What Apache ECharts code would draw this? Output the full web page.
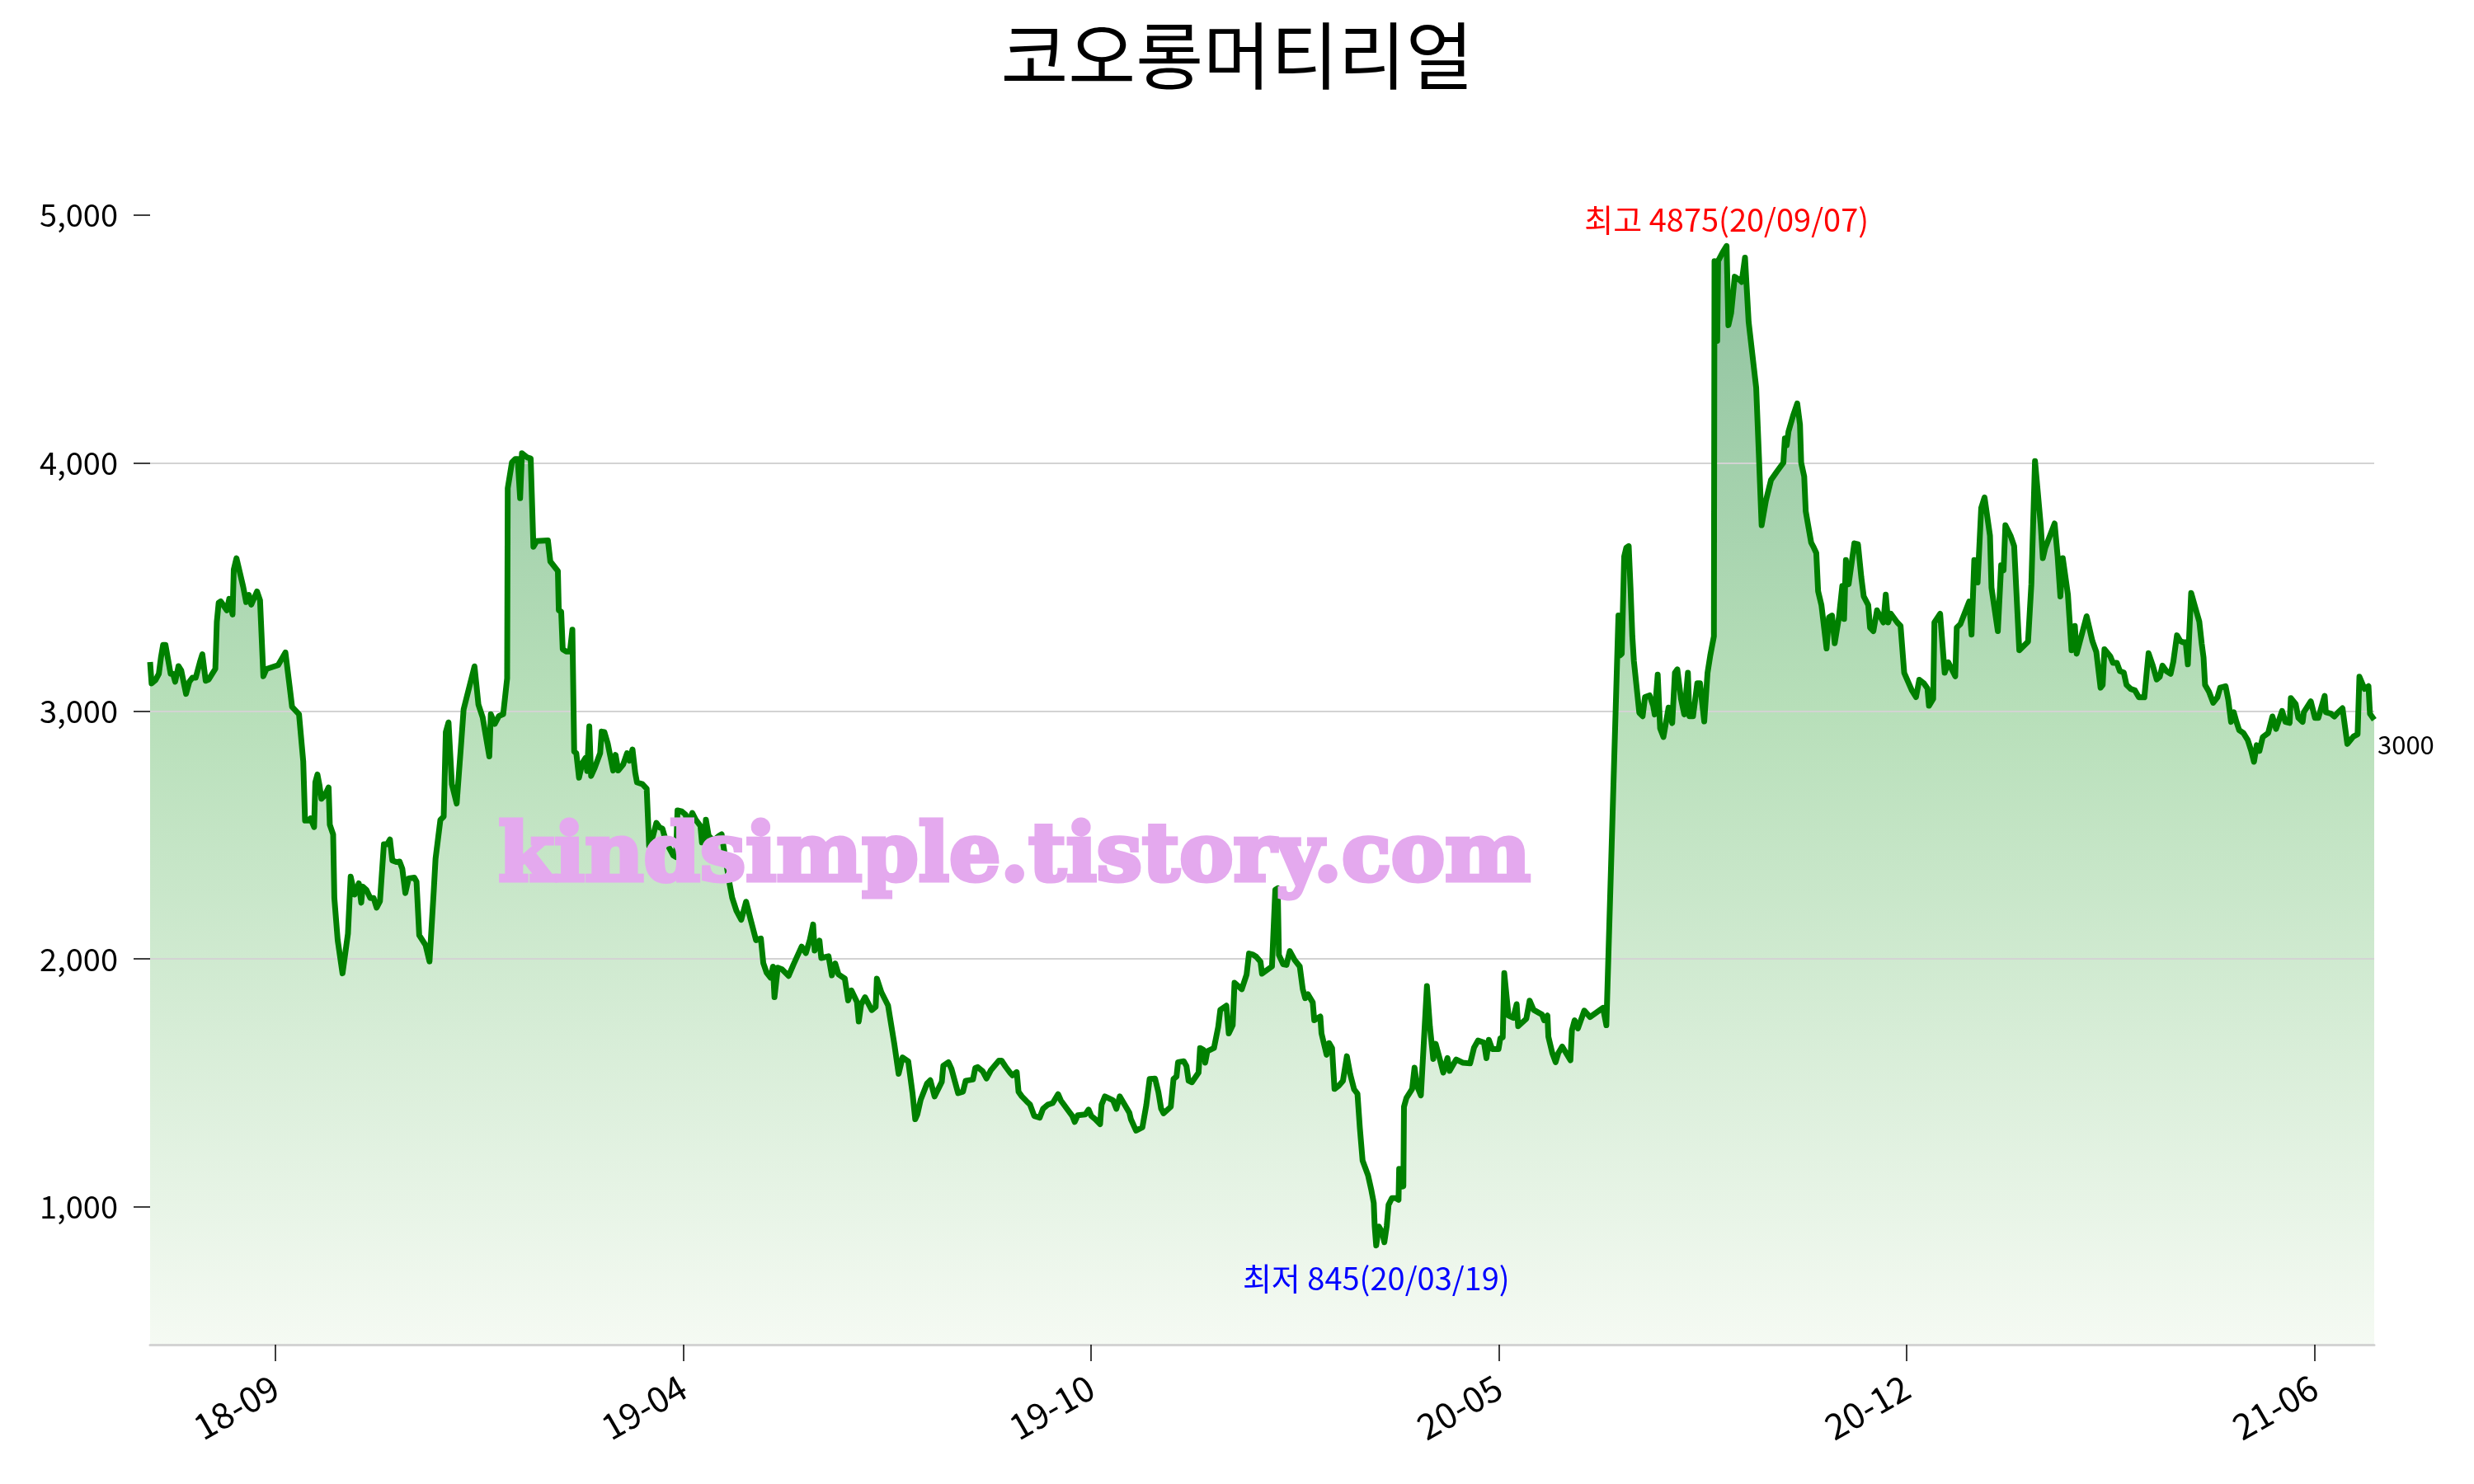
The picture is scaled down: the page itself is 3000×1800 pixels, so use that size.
<!DOCTYPE html>
<html><head><meta charset="utf-8">
<script src="https://cdn.jsdelivr.net/npm/echarts@6/dist/echarts.min.js"></script>
<style>html,body{margin:0;padding:0;background:#fff}#c{width:3000px;height:1800px}</style>
</head><body><div id="c"></div>
<script>
const chartTitle = '코오롱머티리얼';
// trading-day index (x) and close price (y)
const days = [0,0.5,1.8,2.9,3.6,4.3,5.1,6.8,7.6,8.3,9.4,10.3,11.9,13.0,14.0,15.1,16.5,17.3,18.4,19.4,21.6,22.1,22.7,23.4,25.4,26.2,27.3,27.7,28.6,30.8,31.8,32.7,33.5,35.4,36.4,37.5,38.5,42.4,44.8,46.2,47.0,49.3,50.7,51.3,52.4,53.1,54.3,54.7,55.4,56.1,56.7,57.8,59.1,59.5,60.6,61.0,62.1,63.7,65.5,66.4,67.7,69.1,69.9,70.4,71.6,72.9,74.0,75.0,76.1,77.4,78.5,79.4,80.2,81.5,82.6,83.5,84.5,85.6,87.5,88.2,89.1,91.2,92.5,93.9,94.5,96.1,97.2,97.9,98.8,99.9,101.5,103.1,103.8,107.4,108.7,110.1,112.3,112.8,114.1,115.5,116.9,118.2,118.4,119.8,120.9,121.7,122.5,123.1,124.9,126.0,126.9,128.0,131.7,132.5,135.0,135.3,136.1,136.6,137.7,139.0,139.8,140.4,141.1,142.0,143.1,144.1,144.7,145.4,146.0,147.2,149.0,149.5,150.4,151.5,153.3,154.1,155.0,156.6,157.9,158.7,159.7,160.6,161.2,163.0,
164.4,165.2,166.5,167.6,168.7,169.6,170.9,173.2,174.1,174.6,176.0,177.3,177.9,179.5,180.6,182.2,182.7,183.6,184.0,184.9,186.5,188.4,189.2,190.3,191.9,192.7,194.1,195.7,197.3,198.9,200.6,202.2,203.0,204.1,205.4,206.2,206.7,207.8,209.2,211.4,213.0,215.7,217.1,218.4,219.5,220.0,221.6,222.2,224.6,225.7,226.8,227.9,230.0,231.1,232.2,234.0,234.6,235.4,236.7,238.9,240.2,240.6,242.1,244.3,246.4,247.8,249.1,251.0,252.4,253.3,254.0,255.1,257.2,258.3,259.7,262.1,262.6,264.3,265.3,267.5,269.1,270.0,272.4,273.2,274.0,275.6,276.9,278.3,281.0,281.9,283.2,284.8,285.5,286.9,287.5,288.6,290.2,291.3,292.7,294.5,295.6,297.2,298.8,300.6,301.5,303.7,305.3,306.1,307.1,309.6,310.7,311.6,312.9,314.5,315.0,316.1,318.8,319.9,321.0,322.6,324.2,324.7,326.4,328.5,
329.8,330.9,332.7,333.8,334.7,335.5,337.9,338.8,339.8,340.3,342.2,343.1,343.8,344.9,347.1,347.6,348.7,349.3,350.0,352.2,353.6,354.3,356.3,357.1,358.4,359.0,361.4,363.0,363.8,365.1,366.2,367.6,368.1,371.4,372.5,373.3,373.7,375.1,376.2,377.3,378.9,380.6,381.6,382.4,383.3,384.9,385.4,387.4,387.8,389.5,390.3,391.3,392.1,393.5,394.9,396.2,397.3,398.6,399.7,400.5,401.4,403.2,404.3,405.1,405.4,405.9,406.8,407.9,408.6,409.4,410.0,411.1,412.4,413.3,413.5,414.3,414.9,415.1,415.9,417.8,418.6,419.4,420.7,422.7,423.7,424.8,425.6,427.0,428.1,429.5,430.2,432.4,434.5,437.0,438.3,439.6,441.6,442.4,443.2,444.3,446.4,447.0,447.8,448.3,449.7,451.3,452.4,452.9,455.6,456.7,458.0,460.8,461.5,462.6,462.9,464.2,465.3,466.2,467.5,469.1,470.2,470.7,471.6,472.7,474.8,476.7,481.0,482.1,
486.1,486.6,487.2,488.0,488.7,489.5,490.1,490.7,491.2,493.0,494.1,494.9,496.4,497.6,498.1,499.1,499.9,501.0,502.7,503.9,504.8,505.6,506.8,507.9,509.1,509.6,510.8,512.2,513.1,514.5,515.6,516.5,517.7,517.9,518.8,519.1,520.6,521.9,522.5,523.4,524.6,526.3,526.9,528.0,529.2,531.7,532.6,533.5,534.9,536.6,538.6,540.7,541.2,541.8,542.4,543.9,545.3,546.2,546.6,547.6,548.1,549.9,550.8,551.6,552.2,553.3,555.0,555.8,556.8,557.7,559.1,560.2,560.8,561.4,562.3,564.2,565.4,566.5,567.3,568.8,569.4,570.5,571.7,573.8,574.6,575.4,576.3,578.4,579.5,580.7,583.2,584.6,585.7,587.2,588.4,588.9,590.3,590.7,592.6,594.1,595.3,597.6,598.1,599.3,602.2,603.0,603.9,605.0,606.2,607.3,609.1,609.6,611.7,612.8,613.6,614.2,615.9,617.1,618.8,621.7,622.8,624.0,625.9,626.6,627.4,630.5,631.5,632.4,633.2,634.9,636.1,637.2,637.8,
641.1,643.0,644.3,645.7,646.4,647.0,648.9,649.8,651.1,652.1,653.4,654.3,655.7,657.1,658.4,660.2,661.6,663.0,664.3,665.3,666.2,667.5,668.9,669.8,671.0,672.1,673.0,673.9,674.6,675.7,677.1,678.4,679.2,679.8,680.3,681.6,683.0,684.4,685.3,687.1,688.0,688.9,689.8,690.7,691.6,693.0,694.4,695.6,696.5,697.4,698.3,699.4,701.2,702.6,703.8,705.8,706.9,708.3,708.7,710.3,711.2,712.6,713.0,715.3,716.7,717.8,719.9,720.3,722.0,723.1,724.4,725.8,727.4,729.4,730.8,731.4,733.1,734.4,734.9,736.3];
const prices = [3197,3111,3125,3150,3216,3266,3266,3150,3150,3118,3181,3164,3069,3118,3134,3134,3197,3229,3122,3127,3170,3360,3436,3442,3406,3452,3389,3570,3616,3502,3439,3468,3429,3482,3446,3140,3169,3185,3236,3098,3017,2987,2797,2558,2558,2567,2532,2712,2744,2699,2646,2659,2692,2541,2502,2246,2076,1942,2102,2332,2260,2305,2227,2292,2279,2246,2246,2207,2233,2463,2463,2482,2397,2391,2393,2364,2266,2325,2328,2312,2096,2056,1990,2273,2404,2561,2574,2915,2954,2705,2627,2889,3007,3180,3026,2974,2817,2987,2948,2980,2987,3131,3898,4003,4016,4016,3858,4039,4022,4018,3662,3685,3688,3603,3564,3406,3400,3249,3240,3240,3328,2836,2830,2731,2790,2810,2758,2938,2738,2771,2830,2917,2915,2869,2760,2823,2760,2784,2830,2800,2845,2751,2712,2705,
2687,2457,2497,2549,2530,2526,2470,2418,2411,2599,2595,2582,2536,2589,2562,2536,2470,2470,2562,2497,2477,2497,2503,2418,2300,2247,2195,2158,2231,2155,2076,2083,1984,1945,1925,1969,1846,1965,1958,1932,1978,2050,2024,2076,2139,2034,2074,2004,2011,1934,1982,1938,1921,1833,1873,1827,1748,1817,1846,1794,1807,1921,1866,1813,1656,1537,1603,1587,1459,1354,1373,1432,1498,1511,1446,1505,1570,1584,1557,1459,1465,1509,1514,1561,1564,1548,1518,1551,1590,1590,1566,1540,1531,1544,1465,1446,1426,1413,1367,1360,1396,1413,1419,1455,1430,1393,1367,1343,1370,1373,1393,1367,1354,1334,1413,1446,1430,1396,1446,1413,1380,1354,1308,1321,
1411,1516,1518,1463,1397,1378,1404,1516,1526,1584,1588,1568,1509,1503,1542,1641,1634,1582,1628,1641,1726,1795,1812,1700,1733,1904,1878,1937,2022,2018,2009,1989,1941,1970,2279,2285,2016,1979,1976,2032,1996,1970,1878,1842,1858,1825,1753,1768,1700,1614,1661,1641,1476,1489,1509,1608,1536,1474,1457,1318,1187,1128,1068,1016,924,845,921,897,858,924,1009,1036,1036,1029,1154,1082,1084,1404,1439,1476,1562,1489,1450,1891,1726,1597,1658,1595,1542,1601,1549,1595,1582,1579,1643,1671,1663,1600,1674,1637,1637,1680,1684,1943,1772,1763,1818,1729,1759,1832,1795,1776,1753,1772,1687,1621,1584,1621,1647,1614,1592,1713,1753,1720,1792,1766,1803,1733,
3385,3224,3231,3623,3658,3665,3497,3301,3203,2993,2979,3056,3063,3021,2986,3147,2930,2895,3014,2951,3154,3168,3049,2986,3154,2979,2979,3112,3112,2958,3154,3224,3301,4814,4492,4814,4849,4875,4555,4604,4751,4737,4730,4828,4569,4303,4029,3749,3847,3931,3966,4001,4099,4071,4127,4190,4240,4155,4001,3945,3805,3679,3658,3637,3483,3427,3252,3378,3385,3273,3378,3504,3371,3609,3511,3676,3672,3539,3462,3427,3336,3322,3406,3357,3469,3357,3392,3357,3343,3154,3084,3056,3126,3112,3091,3021,3049,3357,3392,3154,3196,3140,3336,3350,3441,3308,3609,3518,3819,3861,3707,3497,3322,3588,3567,3749,3707,3665,3245,3280,3511,4008,3749,3616,3658,3756,3623,3462,3616,3469,3245,3343,3231,
3382,3282,3238,3094,3105,3249,3221,3194,3194,3161,3155,3105,3089,3083,3055,3055,3233,3183,3127,3138,3183,3161,3150,3199,3305,3282,3277,3277,3188,3476,3415,3360,3271,3216,3105,3078,3033,3055,3094,3100,3044,2956,2995,2956,2923,2911,2884,2839,2795,2862,2839,2895,2911,2978,2928,3000,2956,2952,3052,3028,2972,2956,2995,3039,2972,2972,3061,2995,2989,2978,2995,3011,2867,2897,2906,3138,3089,3100,2989,2965];
const tickDays = [41.5,176.5,311.5,446.5,581.5,716.5];
const tickLabels = ['18-09','19-04','19-10','20-05','20-12','21-06'];
const yTicks = [1000,2000,3000,4000,5000];
const yMin = 445, yMax = 5275;
const highDate = '20/09/07';
const lowDate = '20/03/19';
const lastPriceLabel = '3000';
const watermarkText = 'kindsimple.tistory.com';

const KR = '"Noto Sans CJK KR","Noto Sans",sans-serif';
const data = days.map((d, i) => [d, prices[i]]);
let iMax = 0, iMin = 0;
prices.forEach((p, i) => { if (p > prices[iMax]) iMax = i; if (p < prices[iMin]) iMin = i; });
const iLast = prices.length - 1;

const chart = echarts.init(document.getElementById('c'), null, {renderer: 'canvas', width: 3000, height: 1800});
chart.setOption({
  animation: false,
  backgroundColor: '#ffffff',
  textStyle: {fontFamily: KR},
  title: {text: chartTitle, left: 'center', top: 18,
    textStyle: {fontFamily: KR, fontSize: 89, fontWeight: 'normal', color: '#000'}},
  grid: {left: 182, right: 121, top: 178, bottom: 169},
  xAxis: {
    type: 'value', min: 0, max: days[iLast], z: 2,
    axisLine: {show: true, lineStyle: {color: '#d3d3d3', width: 3}},
    axisTick: {show: true, customValues: tickDays, length: 20, lineStyle: {color: '#000', width: 1.5}},
    axisLabel: {customValues: tickDays, rotate: 30, margin: 48, fontSize: 43, color: '#000', fontFamily: KR,
      formatter: v => { const k = tickDays.indexOf(v); return k >= 0 ? tickLabels[k] : ''; }},
    splitLine: {show: false}
  },
  yAxis: {
    type: 'value', min: yMin, max: yMax, z: 2, minInterval: 1000, maxInterval: 1000,
    axisLine: {show: false},
    axisTick: {show: true, customValues: yTicks, length: 20, lineStyle: {color: '#000', width: 1.5}},
    axisLabel: {customValues: yTicks, margin: 39, fontSize: 38, color: '#000', fontFamily: KR,
      formatter: v => v.toLocaleString('en-US')},
    splitLine: {show: true, showMinLine: false, showMaxLine: false, lineStyle: {color: '#d3d3d3', width: 2}}
  },
  series: [
    {type: 'line', data: data, symbol: 'none', showSymbol: false, silent: true, z: 1,
      lineStyle: {width: 0},
      areaStyle: {opacity: 1, color: new echarts.graphic.LinearGradient(0, 0, 0, 1, [
        {offset: 0, color: '#8fc29f'},
        {offset: 0.42, color: '#b7dfb9'},
        {offset: 1, color: '#f5faf3'}
      ])}},
    {type: 'line', data: data, symbol: 'none', showSymbol: false, z: 3,
      lineStyle: {color: '#008000', width: 7, join: 'round'},
      markPoint: {
        symbol: 'circle', symbolSize: 1, silent: true,
        itemStyle: {color: 'rgba(0,0,0,0)'},
        data: [
          {coord: data[iMax], label: {show: true, position: 'inside', offset: [0, -32],
            formatter: '최고 ' + prices[iMax] + '(' + highDate + ')', color: '#ff0000', fontSize: 38, fontFamily: KR}},
          {coord: data[iMin], label: {show: true, position: 'inside', offset: [0, 40],
            formatter: '최저 ' + prices[iMin] + '(' + lowDate + ')', color: '#0000ff', fontSize: 38, fontFamily: KR}},
          {coord: data[iLast], label: {show: true, position: 'inside', align: 'left', offset: [4, 30],
            formatter: lastPriceLabel, color: '#000', fontSize: 31, fontFamily: KR}}
        ]
      }}
  ],
  graphic: [{
    type: 'text', x: 1230, y: 1043, z: 100, silent: true,
    style: {text: watermarkText, fontFamily: '"DejaVu Serif", serif', fontWeight: 'bold', fontSize: 98,
      fill: '#e4a9ee', stroke: '#e4a9ee', lineWidth: 5, align: 'center', verticalAlign: 'middle'}
  }]
});
</script></body></html>
